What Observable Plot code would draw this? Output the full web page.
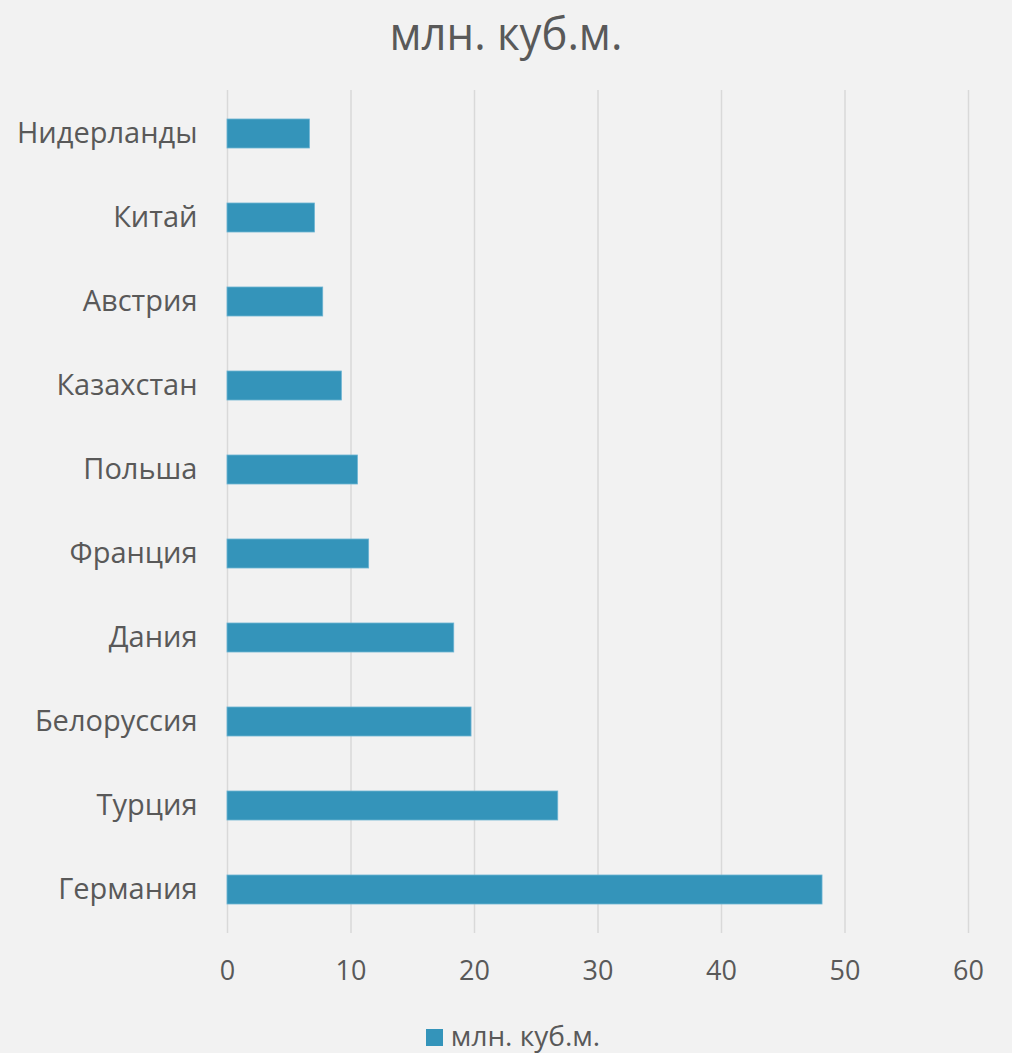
<!DOCTYPE html>
<html>
<head>
<meta charset="utf-8">
<script src="https://cdn.jsdelivr.net/npm/d3@7"></script>
<script src="https://cdn.jsdelivr.net/npm/@observablehq/plot@0.6"></script>
<style>
  html, body { margin: 0; padding: 0; background: #f2f2f2; }
  #wrap { width: 1012px; height: 1053px; background: #f2f2f2; position: relative; overflow: hidden; }
  #title { position: absolute; top: 0; left: 0; width: 1012px; height: 70px; text-align: center;
    font-family: "Open Sans", sans-serif; font-size: 45px; line-height: 66px; color: #595959; }
  #title span { display: inline-block; transform: scaleX(0.97); }
  #chart { position: absolute; top: 70px; left: 0; }
  #legend { position: absolute; top: 1019px; left: 7px; width: 1012px; text-align: center;
    font-family: "Open Sans", sans-serif; font-size: 28px; line-height: 32px; color: #595959; }
  #legend .sw { display: inline-block; width: 17px; height: 17px; background: #3494ba; margin-right: 8px; vertical-align: 0px; }
</style>
</head>
<body>
<div id="wrap">
  <div id="title"><span>млн. куб.м.</span></div>
  <div id="chart"></div>
  <div id="legend"><span class="sw"></span>млн. куб.м.</div>
</div>
<script>
const countries = ["Нидерланды", "Китай", "Австрия", "Казахстан", "Польша", "Франция", "Дания", "Белоруссия", "Турция", "Германия"];
const values = [6.67, 7.08, 7.75, 9.26, 10.56, 11.47, 18.36, 19.76, 26.78, 48.18];
const xTicks = [0, 10, 20, 30, 40, 50, 60];
const seriesName = "млн. куб.м.";

const data = countries.map((c, i) => ({country: c, value: values[i]}));

const chart = Plot.plot({
  width: 1012,
  height: 935,
  marginTop: 20,
  marginBottom: 72,
  marginLeft: 227,
  marginRight: 44,
  style: { background: "#f2f2f2", color: "#595959", fontFamily: "Open Sans, sans-serif" },
  x: { domain: [0, 60], ticks: xTicks, label: null },
  y: { domain: countries, paddingInner: 0.65, paddingOuter: 0.325, label: null },
  marks: [
    Plot.ruleX(xTicks, { stroke: "#d9d9d9", strokeWidth: 1.5 }),
    Plot.barX(data, { x: "value", y: "country", fill: "#3494ba", stroke: "#6cb3d3", strokeWidth: 0.8 }),
    Plot.axisX({ ticks: xTicks, tickSize: 0, tickPadding: 27, fontSize: 27, fill: "#595959", label: null }),
    Plot.axisY({ tickSize: 0, tickPadding: 30, fontSize: 29, fill: "#595959", label: null })
  ]
});
document.getElementById("chart").appendChild(chart);
</script>
</body>
</html>
